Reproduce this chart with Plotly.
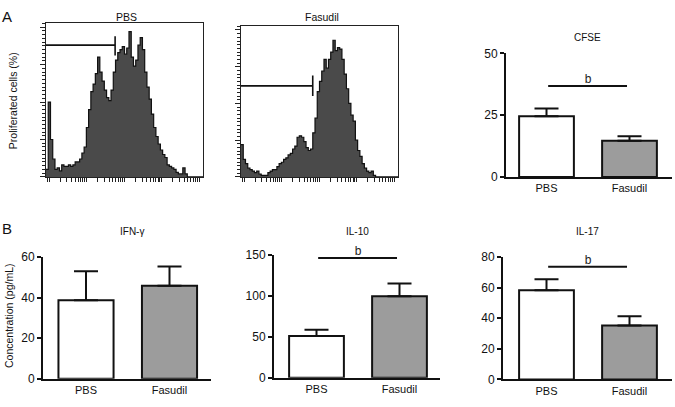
import numpy as np
import plotly.graph_objects as go

W, H = 675, 407

# ---------------- data ----------------
# Flow histograms (relative counts, % of max frame height), 70 log-spaced bins
pbs_hist = [5, 50, 25, 12, 5, 6, 4, 8, 7, 7, 8, 7, 8, 10, 10, 12, 16, 20, 33, 45,
            57, 62, 69, 80, 70, 64, 58, 53, 51, 58, 70, 78, 83, 85, 87, 82, 86, 97, 80, 74,
            78, 88, 93, 85, 70, 60, 52, 42, 33, 27, 22, 18, 15, 13, 8, 7, 6, 5, 3, 2,
            2, 6, 2, 0, 0, 0, 0, 0, 0, 0]
fas_hist = [22, 12, 9, 6, 5, 4, 3, 4, 2, 1, 1, 1, 3, 4, 5, 5, 7, 9, 10, 12,
            13, 15, 16, 19, 21, 27, 28, 27, 24, 20, 18, 19, 30, 40, 58, 65, 72, 80, 74, 80,
            85, 93, 86, 88, 87, 80, 70, 60, 50, 42, 38, 25, 18, 14, 9, 6, 4, 3, 4, 1,
            0, 0, 0, 0, 0, 0, 0, 0, 0, 0]
hist_log_range = [-0.08, 4.1]          # log10 fluorescence range of the frame
pbs_gate = dict(x_end_log=1.76, y=88, y_lo=81, y_hi=94)
fas_gate = dict(x_end_log=1.83, y=62, y_lo=55, y_hi=69)

groups = ["PBS", "Fasudil"]
cfse_mean = [24.6, 14.6]
cfse_err = [3.1, 1.9]
cfse_sig = 36.8
ifn_mean = [38.7, 45.9]
ifn_err = [14.3, 9.5]
il10_mean = [51.0, 99.6]
il10_err = [7.7, 15.8]
il10_sig = 146.5
il17_mean = [58.3, 35.2]
il17_err = [7.2, 6.1]
il17_sig = 73.7
sig_label = "b"

bar_colors = ["#ffffff", "#9c9c9c"]
FONT = "Liberation Sans, Arial, sans-serif"
TXT = "#111111"


def px(x):
    return x / W


def py(y):
    return 1 - y / H


fig = go.Figure()

# ---------------- histograms ----------------
nb = len(pbs_hist)
edges_log = np.linspace(hist_log_range[0], hist_log_range[1], nb + 1)
edges = 10 ** edges_log

for idx, (counts, gate) in enumerate([(pbs_hist, pbs_gate), (fas_hist, fas_gate)], start=1):
    xa = "x" if idx == 1 else "x2"
    ya = "y" if idx == 1 else "y2"
    yv = list(counts) + [counts[-1]]
    fig.add_trace(go.Scatter(x=edges, y=yv, mode="lines", line_shape="hv",
                             fill="tozeroy", fillcolor="#4a4a4a",
                             line=dict(color="#111111", width=1.2),
                             xaxis=xa, yaxis=ya, showlegend=False, hoverinfo="skip"))
    xs = 10 ** np.array([hist_log_range[0], gate["x_end_log"]])
    fig.add_trace(go.Scatter(x=xs, y=[gate["y"], gate["y"]], mode="lines",
                             line=dict(color="#111111", width=1.6),
                             xaxis=xa, yaxis=ya, showlegend=False, hoverinfo="skip"))
    fig.add_trace(go.Scatter(x=[xs[1], xs[1]], y=[gate["y_lo"], gate["y_hi"]], mode="lines",
                             line=dict(color="#111111", width=1.6),
                             xaxis=xa, yaxis=ya, showlegend=False, hoverinfo="skip"))

# ---------------- bar charts ----------------
bar_sets = [
    ("x3", "y3", cfse_mean, cfse_err),
    ("x4", "y4", ifn_mean, ifn_err),
    ("x5", "y5", il10_mean, il10_err),
    ("x6", "y6", il17_mean, il17_err),
]
for xa, ya, m, e in bar_sets:
    fig.add_trace(go.Bar(x=[0, 1], y=m, width=0.66,
                         marker=dict(color=bar_colors, line=dict(color="#111111", width=2)),
                         error_y=dict(type="data", array=e, arrayminus=[0, 0], symmetric=False,
                                      thickness=2, width=12, color="#111111"),
                         xaxis=xa, yaxis=ya, showlegend=False, hoverinfo="skip"))

# significance lines + label
for xa, ya, s in [("x3", "y3", cfse_sig), ("x5", "y5", il10_sig), ("x6", "y6", il17_sig)]:
    fig.add_trace(go.Scatter(x=[0.02, 0.97], y=[s, s], mode="lines",
                             line=dict(color="#111111", width=2),
                             xaxis=xa, yaxis=ya, showlegend=False, hoverinfo="skip",
                             cliponaxis=False))
    fig.add_trace(go.Scatter(x=[0.5], y=[s], mode="text", text=[sig_label], textposition="top center",
                             textfont=dict(family=FONT, size=12, color="#222222"),
                             xaxis=xa, yaxis=ya, showlegend=False, hoverinfo="skip",
                             cliponaxis=False))

hist_x_common = dict(type="log", range=hist_log_range, showline=True, linecolor="#222",
                     linewidth=1.2, mirror=True, ticks="outside", ticklen=4, tickwidth=1,
                     tickcolor="#222", dtick="D1", showticklabels=False, showgrid=False,
                     zeroline=False)
hist_y_common = dict(range=[0, 102.5], showline=True, linecolor="#222", linewidth=1.2,
                     mirror=True, ticks="outside", ticklen=5, tickwidth=1, tickcolor="#222",
                     dtick=25, showticklabels=False, showgrid=False, zeroline=False,
                     minor=dict(ticks="outside", ticklen=3, tickwidth=1, tickcolor="#222", dtick=2.5))

bar_x_common = dict(showline=True, linecolor="#111", linewidth=2, ticks="", tickvals=[0, 1],
                    ticktext=groups, showgrid=False, zeroline=False,
                    tickfont=dict(family=FONT, size=11, color=TXT))
bar_y_common = dict(showline=True, linecolor="#111", linewidth=2, ticks="outside", ticklen=4,
                    tickwidth=2, tickcolor="#111", showgrid=False, zeroline=False,
                    tickfont=dict(family=FONT, size=12, color=TXT))

fig.update_layout(
    width=W, height=H, margin=dict(l=0, r=0, t=0, b=0),
    paper_bgcolor="white", plot_bgcolor="white",
    xaxis=dict(domain=[px(46), px(203)], anchor="y", **hist_x_common),
    yaxis=dict(domain=[py(176), py(17)], anchor="x", **hist_y_common),
    xaxis2=dict(domain=[px(241), px(398)], anchor="y2", **hist_x_common),
    yaxis2=dict(domain=[py(176), py(20)], anchor="x2", **hist_y_common),
    xaxis3=dict(domain=[px(506), px(672)], anchor="y3", range=[-0.488, 1.512], **bar_x_common),
    yaxis3=dict(domain=[py(176), py(48)], anchor="x3", range=[0, 50], tickvals=[0, 25, 50], **bar_y_common),
    xaxis4=dict(domain=[px(43), px(211)], anchor="y4", range=[-0.515, 1.497], **bar_x_common),
    yaxis4=dict(domain=[py(385), py(259)], anchor="x4", range=[0, 60], tickvals=[0, 20, 40, 60], **bar_y_common),
    xaxis5=dict(domain=[px(274), px(440)], anchor="y5", range=[-0.512, 1.488], **bar_x_common),
    yaxis5=dict(domain=[py(384), py(257)], anchor="x5", range=[0, 150], tickvals=[0, 50, 100, 150], **bar_y_common),
    xaxis6=dict(domain=[px(503), px(672)], anchor="y6", range=[-0.524, 1.512], **bar_x_common),
    yaxis6=dict(domain=[py(385.7), py(259)], anchor="x6", range=[0, 80], tickvals=[0, 20, 40, 60, 80], **bar_y_common),
)

# titles and labels in paper coordinates
labels = [
    ("A", 7, 10, 15, 0), ("B", 7, 229, 15, 0),
    ("PBS", 126, 10, 10.5, 0), ("Fasudil", 322, 10, 10.5, 0),
    ("CFSE", 587, 32, 10, 0), ("IFN-γ", 132, 232, 10, 0),
    ("IL-10", 357, 232, 10, 0), ("IL-17", 587, 232, 10, 0),
    ("Proliferated cells (%)", 12.5, 97, 10.5, -90),
    ("Concentration (pg/mL)", 9, 320, 10.5, -90),
]
for t, x, y, s, ang in labels:
    fig.add_annotation(xref="paper", yref="paper", x=px(x), y=py(y), text=t, showarrow=False,
                       xanchor="center", yanchor="middle", textangle=ang,
                       font=dict(family=FONT, size=s, color=TXT))

fig.write_html("out.html", config={"displayModeBar": False},
               post_script="document.body.style.margin='0';document.body.style.overflow='hidden';")
